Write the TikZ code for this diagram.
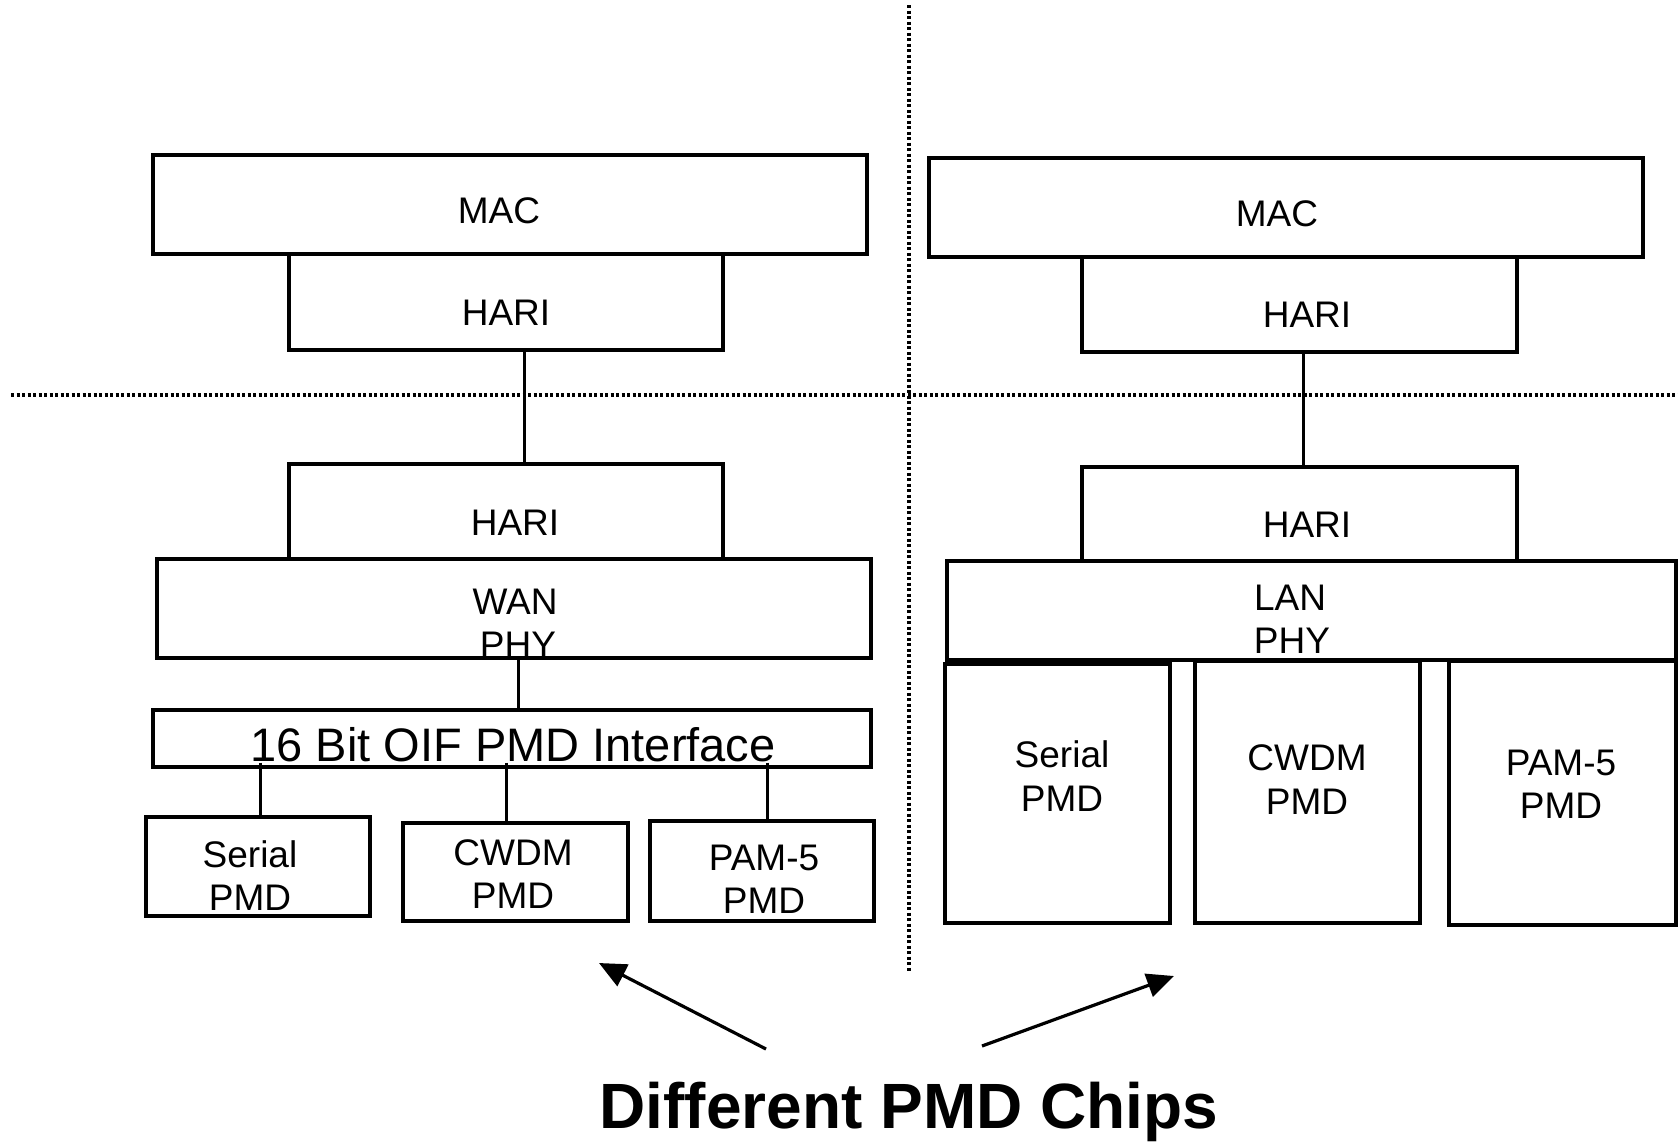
\documentclass[tikz,border=0pt]{standalone}
\usepackage{fontspec}
\setmainfont{Liberation Sans}
\usetikzlibrary{arrows.meta}
\begin{document}
\begin{tikzpicture}[x=1pt,y=-1pt,
  box/.style={draw=black,line width=3.3pt,fill=white,inner sep=0pt,anchor=center},
  lbl/.style={inner sep=0pt,anchor=base,font=\fontsize{37}{43}\selectfont},
  conn/.style={line width=3pt},
  divider/.style={line width=3.2pt,dash pattern=on 3pt off 2.5pt},
  pointer/.style={line width=3.2pt,-{Triangle[length=27pt,width=24pt]}}]
\useasboundingbox (0,0) rectangle (1678,1144);

% dividers
\coordinate (hl) at (11,395);
\coordinate (hr) at (1678,395);
\coordinate (vt) at (909,5);
\coordinate (vb) at (909,971);
\draw[divider] (hl) -- (hr);
\draw[divider] (vt) -- (vb);

% left stack
\node[box,minimum width=714pt,minimum height=99pt] (lmac) at (510,204.5) {};
\node[box,minimum width=434pt,minimum height=96pt] (lhari1) at (506,302) {};
\node[box,minimum width=434pt,minimum height=95pt] (lhari2) at (506,511.5) {};
\node[box,minimum width=714pt,minimum height=99pt] (lwan) at (514,608.5) {};
\node[box,minimum width=718pt,minimum height=57pt] (loif) at (512,738.5) {};
\node[box,minimum width=224pt,minimum height=99pt] (lser) at (258,866.5) {};
\node[box,minimum width=225pt,minimum height=98pt] (lcw) at (515.5,872) {};
\node[box,minimum width=224pt,minimum height=100pt] (lpam) at (762,871) {};

\draw[conn] ([xshift=18pt]lhari1.south) -- ([xshift=18pt]lhari2.north);
\draw[conn] ([xshift=4pt]lwan.south) -- ([xshift=4pt]lwan.south |- loif.north);
\draw[conn] ([xshift=2pt]lser.north |- loif.south) ++(0,6pt) -- ([xshift=2pt]lser.north);
\draw[conn] ([xshift=-9.5pt]lcw.north |- loif.south) ++(0,6pt) -- ([xshift=-9.5pt]lcw.north);
\draw[conn] ([xshift=5pt]lpam.north |- loif.south) ++(0,6pt) -- ([xshift=5pt]lpam.north);

\node[lbl] (tlmac) at (499,223) {MAC};
\node[lbl] (tlhari1) at (506,325) {HARI};
\node[lbl] (tlhari2) at (515,535) {HARI};
\node[lbl] (tlwan1) at (515,614) {WAN};
\node[lbl] (tlwan2) at (518,657) {PHY};
\node[lbl,font=\fontsize{47}{54}\selectfont] (tloif) at (513,761) {16 Bit OIF PMD Interface};
\node[lbl] (tlser1) at (250,867) {Serial};
\node[lbl] (tlser2) at (250,910) {PMD};
\node[lbl] (tlcw1) at (513,865) {CWDM};
\node[lbl] (tlcw2) at (513,908) {PMD};
\node[lbl] (tlpam1) at (764,870) {PAM-5};
\node[lbl] (tlpam2) at (764,913) {PMD};

% right stack
\node[box,minimum width=714pt,minimum height=99pt] (rmac) at (1286,207.5) {};
\node[box,minimum width=435pt,minimum height=95pt] (rhari1) at (1299.5,304.5) {};
\node[box,minimum width=435pt,minimum height=94pt] (rhari2) at (1299.5,514) {};
\node[box,minimum width=729pt,minimum height=99pt] (rlan) at (1311.5,610.5) {};
\node[box,minimum width=225pt,minimum height=259pt] (rser) at (1057.5,793.5) {};
\node[box,minimum width=225pt,minimum height=262pt] (rcw) at (1307.5,792) {};
\node[box,minimum width=227pt,minimum height=264pt] (rpam) at (1562.5,793) {};

\draw[conn] ([xshift=4pt]rhari1.south) -- ([xshift=4pt]rhari2.north);

\node[lbl] (trmac) at (1277,226) {MAC};
\node[lbl] (trhari1) at (1307,327) {HARI};
\node[lbl] (trhari2) at (1307,537) {HARI};
\node[lbl] (trlan1) at (1290,610) {LAN};
\node[lbl] (trlan2) at (1292,653) {PHY};
\node[lbl] (trser1) at (1062,767) {Serial};
\node[lbl] (trser2) at (1062,811) {PMD};
\node[lbl] (trcw1) at (1307,770) {CWDM};
\node[lbl] (trcw2) at (1307,814) {PMD};
\node[lbl] (trpam1) at (1561,775) {PAM-5};
\node[lbl] (trpam2) at (1561,818) {PMD};

% title and arrows
\node[inner sep=0pt,anchor=base,font=\fontsize{64}{72}\selectfont\bfseries] (title) at (909,1128) {Different PMD Chips};
\coordinate (a1s) at (766,1049);
\coordinate (a1e) at (599,963);
\coordinate (a2s) at (982,1046);
\coordinate (a2e) at (1174,976);
\draw[pointer] (a1s) -- (a1e);
\draw[pointer] (a2s) -- (a2e);
\end{tikzpicture}
\end{document}
